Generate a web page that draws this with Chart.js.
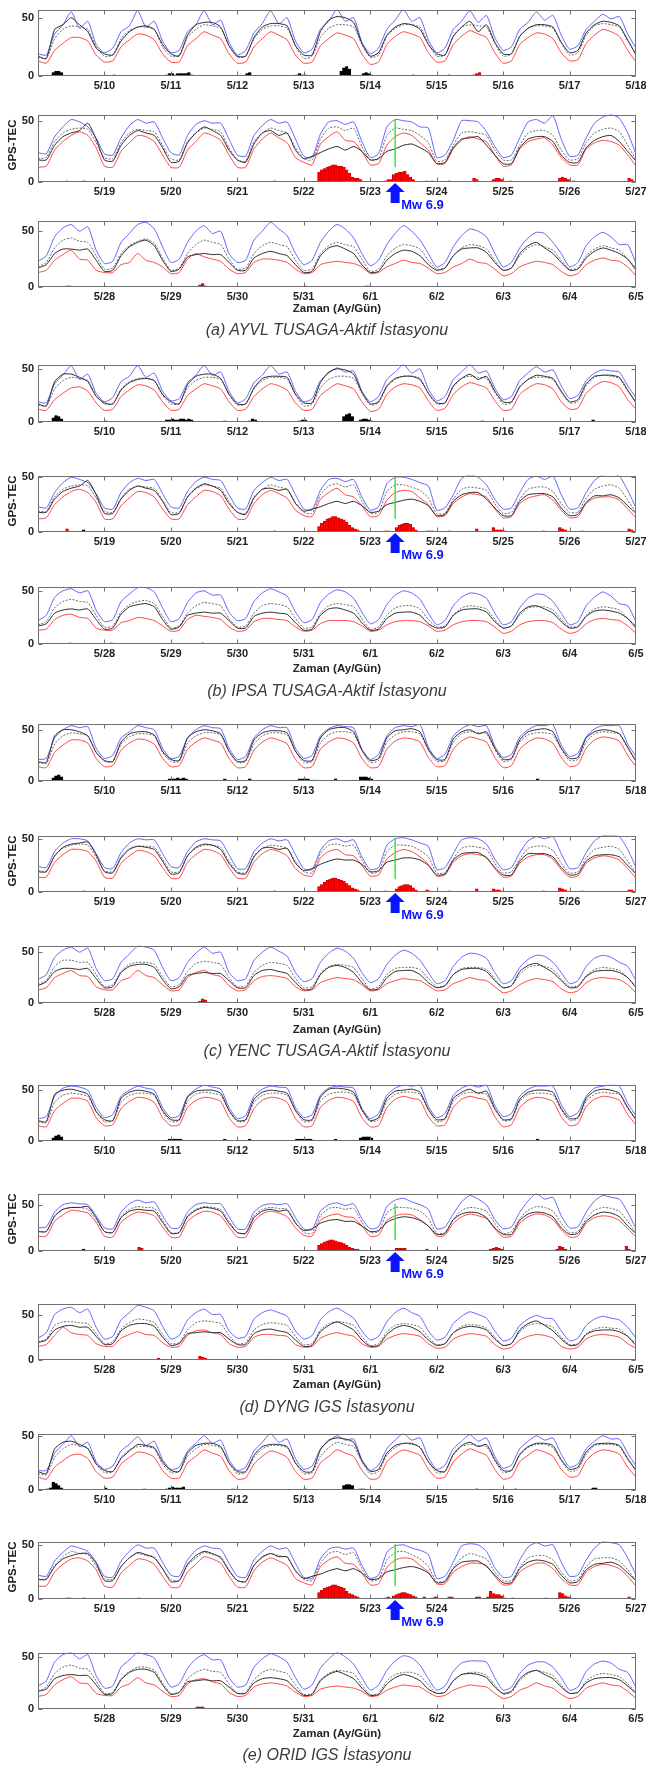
<!DOCTYPE html>
<html>
<head>
<meta charset="utf-8">
<script src="https://cdn.jsdelivr.net/npm/chart.js@4.4.1/dist/chart.umd.min.js"></script>
<style>
  body { margin: 0; background: #fff; }
  #page { position: relative; width: 646px; height: 1774px; overflow: hidden; background: #fff;
          font-family: "Liberation Sans", Arial, sans-serif; }
  #page canvas { position: absolute; left: 0; }
  .caption { position: absolute; left: 0; width: 654px; text-align: center; font-style: italic;
             font-size: 16px; line-height: 20px; color: #3a3a3a; }
  .xtitle { position: absolute; left: 38px; width: 598px; text-align: center; font-weight: bold;
            font-size: 11.5px; line-height: 14px; color: #222; }
  .ytitle { position: absolute; left: 12px; width: 80px; margin-left: -40px; text-align: center;
            font-weight: bold; font-size: 11.5px; line-height: 14px; color: #222; transform: rotate(-90deg); }
</style>
</head>
<body>
<div id="page"></div>
<script>
// GPS-TEC, 3-hourly samples from 5/9 00:00 to 6/5 00:00 (27 days + end point)
// rows = one day (00,03,06,09,12,15,18,21 h)

// ---------- (a) AYVL ----------
const ayvlUpper = [
  19,18,36,44,55,41,47,27, 20,24,38,43,56,42,47,30, 20,22,38,44,56,44,48,29,
  18,22,37,45,56,45,50,30, 20,23,40,47,57,47,50,29, 19,24,40,48,57,47,50,31,
  20,24,40,47,56,46,52,33, 22,25,40,46,55,48,52,35, 23,26,40,47,53,49,51,36,
  24,23,37,45,51,49,45,36, 23,22,36,46,51,48,49,36, 24,22,38,47,50,48,48,35,
  22,21,38,46,51,48,49,35, 21,20,39,49,50,47,49,33, 20,23,45,51,50,49,45,44,
  20,22,34,50,50,49,41,29, 20,22,36,49,51,48,54,35, 21,22,36,48,53,55,52,40,
  23,28,45,53,56,50,54,33, 21,23,40,48,56,58,52,36, 22,25,40,50,55,48,50,30,
  22,24,42,50,58,52,46,30, 20,24,40,50,56,52,44,30, 19,24,38,48,55,50,42,30,
  18,22,36,46,52,50,45,30, 18,22,35,44,49,48,40,30, 18,22,37,45,49,45,38,38,
  21];
const ayvlMedian = [
  16,15,32,40,43,42,40,25, 17,18,32,39,42,42,40,25, 17,18,33,40,44,43,41,26,
  16,17,32,40,43,43,41,26, 15,17,33,41,44,44,42,27, 16,18,34,41,44,44,42,28,
  17,18,34,42,44,43,42,28, 17,19,34,41,43,43,41,28, 18,20,35,43,45,44,42,30,
  19,20,33,40,43,44,43,32, 20,19,32,40,43,42,41,30, 19,18,33,40,44,43,41,28,
  18,17,33,40,44,42,40,28, 19,18,35,44,45,42,44,29, 18,19,38,44,43,42,38,32,
  17,18,30,40,41,40,38,26, 18,18,30,40,42,42,38,26, 18,19,32,40,43,44,41,30,
  18,22,35,42,44,41,40,28, 16,17,30,37,41,43,39,26, 15,17,30,38,42,40,38,25,
  16,17,30,37,40,38,36,24, 15,16,30,37,40,38,36,25, 14,16,28,35,38,37,34,24,
  16,17,28,35,38,37,34,24, 15,17,28,35,38,36,33,24, 16,17,28,34,37,35,33,25,
  17];
const ayvlObs = [
  17,15,40,44,50,44,38,24, 19,18,30,38,42,43,40,27, 19,17,35,44,46,46,42,26,
  17,17,33,42,45,45,43,26, 18,18,38,48,51,50,46,28, 17,20,35,42,45,44,40,27,
  19,18,34,42,47,38,44,29, 19,19,34,41,44,44,42,29, 20,22,37,44,47,46,43,31,
  18,18,30,37,40,42,48,35, 18,17,30,38,42,40,38,28, 16,17,32,40,45,42,38,26,
  18,16,31,40,42,38,40,26, 19,21,24,27,29,26,29,25, 18,19,25,27,30,31,28,24,
  15,16,28,35,36,37,30,22, 15,15,28,35,37,37,33,22, 16,16,28,34,37,38,33,25,
  17,20,30,34,34,33,34,24, 14,15,28,36,40,42,37,24, 14,16,27,29,30,29,29,22,
  15,15,26,30,32,30,28,20, 13,14,28,35,37,34,30,20, 13,14,24,30,33,32,28,20,
  15,17,28,34,35,35,31,22, 15,17,30,37,40,35,30,22, 15,16,26,32,35,33,30,25,
  15];
const ayvlLower = [
  13,11,22,28,33,33,30,18, 12,13,25,31,36,35,31,19, 12,12,26,32,38,35,32,19,
  11,12,25,32,38,35,31,18, 11,12,26,32,37,35,32,19, 10,12,27,34,38,36,33,20,
  12,13,27,34,39,36,33,20, 11,13,27,33,37,36,32,20, 13,14,28,35,40,38,34,22,
  12,13,26,33,38,41,38,28, 13,12,25,32,38,37,33,22, 12,12,26,33,40,38,34,22,
  12,12,27,35,40,36,32,20, 16,14,31,37,41,34,33,25, 14,15,30,37,40,38,32,26,
  15,15,27,34,37,35,33,22, 13,14,27,33,35,36,30,20, 14,14,27,32,34,33,30,22,
  13,15,24,29,33,25,24,15, 13,13,20,22,30,24,22,18, 12,13,25,30,27,25,23,16,
  12,13,22,25,25,24,22,16, 12,13,20,22,23,22,21,18, 12,13,18,21,24,22,21,17,
  12,13,18,21,25,22,21,16, 10,12,18,21,23,22,20,14, 10,12,20,24,26,24,23,18,
  10];
// anomaly bars: [hour from 5/9 00:00, TEC]
const ayvlPosBars = [[5,3],[6,4],[7,4],[8,3],[27,1],[46,1],[47,2],[48,2],[49,1],[50,2],[51,2],[52,2],[53,2],[54,3],[55,1],
  [75,2],[76,3],[93,1],[94,2],[95,1],[96,1],[109,4],[110,7],[111,8],[112,6],[117,2],[118,3],[119,2],[120,1],[135,1],[148,1],[157,1],[232,1]];
const ayvlNegBars = [[158,2],[159,3],[226,1],[301,1],[317,8],[318,10],[319,11],[320,12],[321,13],[322,14],[323,14],[324,13],[325,13],
  [326,12],[327,10],[328,7],[329,4],[330,3],[331,3],[332,2],[341,1],[342,2],[343,2],[344,6],[345,7],[346,8],[347,8],[348,9],[349,6],
  [350,4],[351,2],[356,1],[358,1],[364,1],[373,3],[374,2],[380,2],[381,3],[382,3],[383,2],[386,1],[404,3],[405,4],[406,3],[407,2],
  [409,1],[429,3],[430,2],[442,1],[443,1],[490,2],[491,3],[492,1],[528,1],[550,1],[551,1]];

// ---------- (b) IPSA ----------
const ipsaUpper = [
  19,18,36,44,53,40,45,27, 19,23,38,43,53,42,46,29, 20,22,37,44,53,44,47,29,
  18,22,37,44,53,45,47,29, 19,22,39,46,51,47,48,29, 19,24,40,47,54,46,50,31,
  20,24,40,47,54,46,48,32, 21,24,39,46,52,47,49,34, 22,25,39,46,49,48,47,34,
  23,22,36,45,50,48,45,35, 22,21,36,45,49,47,48,35, 23,22,37,46,50,48,47,34,
  22,21,38,45,50,47,48,34, 21,20,38,48,49,46,48,32, 20,23,44,50,50,48,45,42,
  20,22,34,49,52,50,43,30, 21,22,36,48,51,48,51,34, 21,22,36,47,52,53,51,38,
  22,27,44,50,52,48,50,32, 21,23,40,47,53,53,49,34, 21,24,39,48,50,46,46,30,
  22,24,40,48,52,49,45,30, 20,23,39,47,51,49,43,30, 19,23,37,46,50,48,42,29,
  18,22,36,44,48,47,43,29, 18,21,34,43,47,46,40,29, 18,21,36,44,49,45,38,36,
  21];
const ipsaMedian = [
  16,15,31,39,42,41,39,25, 17,17,31,38,41,41,39,25, 17,17,32,39,42,42,40,26,
  16,17,31,39,42,42,40,26, 15,17,32,40,43,43,41,27, 16,18,33,40,43,43,41,27,
  17,18,33,41,43,42,41,28, 17,18,33,40,42,42,40,28, 18,19,34,42,44,43,41,29,
  19,19,32,39,42,43,42,31, 19,18,31,39,42,41,40,29, 18,18,32,39,43,42,40,28,
  18,17,32,39,43,41,39,27, 18,17,34,42,44,41,43,28, 17,18,37,43,43,41,38,31,
  17,17,30,39,41,40,38,26, 17,18,30,39,41,41,37,26, 18,18,31,39,42,43,40,29,
  18,21,34,40,42,40,39,27, 16,17,30,37,40,41,38,26, 15,17,29,36,39,38,36,24,
  16,17,29,36,38,37,35,24, 15,16,29,36,38,37,35,24, 14,16,27,34,36,36,33,23,
  16,17,27,34,36,35,33,23, 15,17,27,34,35,35,32,23, 16,17,27,33,35,34,32,24,
  17];
const ipsaObs = [
  17,15,38,45,45,42,38,24, 18,17,30,37,40,41,39,26, 19,17,35,43,45,45,41,26,
  17,17,32,41,43,43,42,26, 18,18,37,47,50,49,45,28, 17,19,34,41,43,43,40,27,
  18,18,34,41,45,40,43,29, 19,19,33,40,44,43,41,29, 19,21,36,43,44,44,42,30,
  18,18,30,37,40,42,47,34, 17,17,30,38,42,40,38,28, 16,17,32,40,44,42,38,26,
  18,16,31,39,40,38,39,26, 19,21,23,26,28,26,28,24, 18,19,25,27,29,30,28,24,
  15,16,28,34,36,36,30,22, 15,15,28,34,35,35,32,22, 15,16,27,33,33,34,31,24,
  17,19,29,32,33,32,33,23, 14,15,28,35,37,38,35,23, 14,16,27,29,30,29,29,22,
  15,15,26,29,30,29,28,20, 13,14,27,33,34,32,29,20, 13,14,24,29,30,30,27,19,
  15,16,27,32,33,33,30,21, 15,17,29,35,36,33,29,21, 15,16,26,31,32,31,29,24,
  15];
const ipsaLower = [
  12,11,21,27,32,33,29,18, 11,12,24,30,35,34,30,19, 11,12,25,31,36,34,31,19,
  11,12,24,31,36,34,30,18, 11,12,25,31,36,34,31,19, 10,12,26,33,36,35,32,20,
  11,13,26,33,37,35,32,20, 11,12,26,32,36,35,31,19, 12,13,27,34,38,37,33,21,
  12,13,25,32,37,39,36,27, 12,12,24,31,37,36,32,21, 12,12,25,32,38,37,33,21,
  12,12,26,34,38,35,31,20, 15,14,30,36,40,34,32,24, 14,15,29,36,38,37,31,25,
  14,15,26,32,35,34,32,21, 13,14,26,31,33,34,29,20, 13,14,26,31,32,32,29,21,
  13,14,23,27,28,25,24,15, 13,13,20,22,25,24,22,17, 12,13,23,27,26,25,23,16,
  12,13,21,24,24,23,22,16, 12,13,19,22,22,22,21,17, 12,13,18,21,22,22,21,17,
  12,13,18,21,22,22,21,16, 10,12,18,21,22,22,20,14, 10,12,19,23,24,23,22,17,
  10];
const ipsaPosBars = [[5,4],[6,6],[7,5],[8,3],[24,1],[46,2],[47,2],[48,3],[49,2],[50,2],[51,3],[52,3],[53,2],[54,3],[55,2],[67,1],
  [76,1],[77,3],[78,2],[94,1],[95,2],[96,2],[110,5],[111,7],[112,8],[113,5],[116,2],[117,3],[118,3],[119,2],[120,1],[160,1],[200,2],[232,2]];
const ipsaNegBars = [[226,3],[301,1],[317,5],[318,8],[319,10],[320,12],[321,13],[322,14],[323,14],[324,13],[325,12],[326,11],[327,9],
  [328,6],[329,4],[330,3],[331,2],[341,1],[342,1],[345,4],[346,6],[347,7],[348,8],[349,8],[350,7],[351,4],[352,2],[356,1],[357,1],
  [358,1],[364,1],[374,3],[380,4],[381,2],[382,2],[383,2],[384,1],[398,1],[404,4],[405,3],[406,2],[412,1],[429,3],[430,2],[443,1],
  [458,1],[491,1],[530,1]];

// ---------- (c) YENC ----------
const yencUpper = [
  21,22,42,50,54,52,53,32, 22,25,42,48,54,52,50,32, 22,24,42,50,54,52,51,32,
  21,24,42,50,54,52,52,32, 22,25,44,51,54,53,52,31, 21,26,44,52,54,53,55,33,
  22,26,44,51,55,53,54,34, 23,26,43,50,54,54,55,35, 24,27,43,51,54,54,54,36,
  24,23,38,46,50,50,48,36, 23,22,37,46,50,49,49,36, 24,23,38,47,50,49,48,35,
  22,22,38,46,50,48,49,35, 22,21,39,48,50,47,49,33, 21,23,44,50,51,49,46,43,
  21,23,36,49,51,50,45,31, 21,23,37,48,52,50,52,36, 22,23,37,48,53,53,52,40,
  23,28,45,52,55,50,54,34, 22,24,40,48,56,55,52,35, 22,25,40,49,55,49,50,30,
  22,24,42,50,55,51,46,30, 21,24,40,49,54,51,44,30, 20,24,38,47,52,49,42,30,
  19,22,36,45,49,48,44,30, 19,22,35,43,47,46,40,30, 19,22,36,44,47,45,40,36,
  22];
const yencMedian = [
  18,17,36,44,47,46,44,28, 19,19,36,43,46,46,44,28, 19,19,37,44,47,47,45,29,
  18,19,36,44,47,47,45,29, 18,19,37,45,48,48,46,30, 18,20,38,45,48,48,46,30,
  19,20,38,46,48,47,46,31, 19,21,38,45,47,47,45,31, 20,21,38,46,48,47,46,32,
  20,20,34,41,44,45,44,33, 20,19,33,41,43,43,42,31, 19,19,34,41,44,44,42,29,
  19,18,34,41,44,43,41,29, 19,18,36,44,45,43,44,30, 18,19,38,44,44,43,39,33,
  18,18,31,41,43,42,40,27, 18,19,31,41,43,43,39,27, 18,19,32,40,42,43,40,29,
  18,22,36,42,42,40,40,28, 16,18,31,38,40,40,38,26, 16,18,31,39,41,40,38,25,
  16,17,30,37,40,39,37,24, 15,16,29,36,38,37,35,24, 14,16,28,34,35,35,33,24,
  16,17,28,34,35,35,33,24, 15,17,28,35,37,36,33,24, 16,17,27,33,35,34,32,25,
  17];
const yencObs = [
  19,18,44,50,50,48,44,28, 20,19,38,46,48,48,45,29, 21,20,42,48,50,49,46,29,
  19,20,40,47,49,49,47,29, 20,20,42,50,52,52,48,30, 20,22,42,49,50,51,48,31,
  21,21,41,48,50,46,48,32, 21,22,40,48,50,51,48,32, 22,23,42,48,50,49,46,33,
  19,19,34,42,45,46,47,35, 19,18,32,40,43,42,40,29, 17,18,34,42,45,44,40,27,
  18,17,33,41,42,40,41,27, 20,22,26,29,31,30,30,26, 19,20,28,30,32,32,30,25,
  16,17,30,36,37,37,32,23, 16,16,29,36,36,36,33,23, 16,17,29,34,35,35,33,25,
  17,21,31,34,34,33,34,24, 15,16,30,36,38,38,35,23, 14,16,27,29,30,29,29,22,
  15,15,27,32,33,31,29,20, 13,14,28,35,37,35,30,20, 13,14,25,31,32,32,28,20,
  15,17,28,33,34,34,31,22, 15,17,31,37,39,35,30,22, 15,16,26,31,32,32,30,25,
  15];
const yencLower = [
  14,13,28,35,40,40,37,22, 14,15,30,37,41,40,36,22, 14,15,31,38,42,40,37,22,
  13,14,30,38,42,40,36,21, 13,14,31,38,42,41,37,22, 13,14,31,39,42,41,38,23,
  14,15,31,39,43,41,38,23, 13,15,31,38,42,41,37,23, 14,16,32,40,43,42,39,25,
  14,14,28,35,40,40,38,29, 14,13,27,34,39,38,34,23, 13,13,28,35,40,39,35,23,
  13,13,28,36,40,38,34,22, 16,15,32,38,40,35,34,25, 15,16,31,37,40,38,33,26,
  15,16,28,34,36,35,33,22, 14,15,27,33,35,35,31,21, 14,15,27,32,34,33,30,22,
  13,15,25,29,32,27,26,16, 13,13,22,25,32,27,25,18, 12,13,25,30,32,28,26,17,
  12,13,22,26,27,26,24,16, 12,13,20,23,25,24,23,18, 12,13,19,22,24,23,22,17,
  12,13,19,22,25,23,22,16, 10,12,18,22,24,23,21,14, 10,12,20,24,25,24,23,18,
  10];
const yencPosBars = [[5,3],[6,5],[7,6],[8,4],[24,1],[46,1],[47,2],[48,2],[49,2],[50,3],[51,2],[52,3],[53,2],[54,1],[67,2],[76,2],
  [93,1],[94,2],[95,2],[96,2],[97,2],[98,1],[99,1],[100,1],[107,2],[113,1],[116,4],[117,4],[118,4],[119,3],[120,2],[132,1],[171,1],
  [180,2],[232,1]];
const yencNegBars = [[301,1],[317,5],[318,7],[319,9],[320,11],[321,12],[322,13],[323,13],[324,12],[325,11],[326,10],[327,8],[328,6],
  [329,4],[330,3],[331,2],[341,1],[345,3],[346,5],[347,6],[348,7],[349,7],[350,6],[351,4],[352,2],[356,2],[357,1],[364,1],[374,3],
  [380,3],[381,2],[382,2],[383,1],[398,1],[404,4],[405,3],[406,2],[412,1],[429,2],[430,2],[458,1],[490,2],[491,4],[492,3],[532,1],
  [534,1],[632,1]];

// ---------- (d) DYNG ----------
const dyngUpper = [
  22,24,44,52,54,53,50,33, 23,26,44,50,54,52,50,33, 23,25,44,51,55,53,51,33,
  22,25,44,51,54,53,52,33, 23,26,45,52,54,53,52,32, 22,27,45,52,55,54,55,34,
  23,27,45,52,55,53,55,35, 24,27,44,51,54,54,54,36, 24,28,44,52,54,55,54,37,
  25,26,42,50,52,51,50,38, 25,24,42,51,55,52,53,38, 25,25,42,50,52,51,51,37,
  24,24,42,49,51,50,51,36, 24,23,43,50,52,49,51,35, 24,26,48,55,57,53,50,45,
  24,26,40,53,60,56,50,34, 24,26,42,54,62,56,58,38, 25,26,42,54,60,58,56,42,
  24,30,50,56,58,52,56,36, 23,26,44,52,60,58,54,37, 23,27,44,52,56,50,50,32,
  24,26,45,52,55,52,48,32, 23,27,44,53,57,52,46,32, 22,26,42,52,57,52,48,32,
  22,25,40,48,53,50,46,32, 21,24,38,45,49,46,45,32, 21,24,38,45,48,46,44,36,
  24];
const dyngMedian = [
  19,18,38,45,47,46,44,29, 19,20,38,45,47,47,45,29, 19,20,39,46,48,47,45,30,
  19,20,38,45,47,47,45,30, 19,20,39,46,48,48,46,30, 19,21,39,46,48,48,46,31,
  19,21,39,46,48,47,46,31, 20,21,39,46,47,47,45,31, 20,22,39,46,48,47,46,32,
  21,21,37,45,47,47,45,34, 21,20,37,45,48,47,46,33, 20,20,38,45,48,47,45,32,
  20,19,38,45,47,46,45,31, 20,19,38,46,47,45,46,31, 20,21,41,47,47,46,43,35,
  19,20,34,44,47,46,43,30, 19,21,35,44,48,47,43,30, 20,21,35,44,47,46,43,32,
  20,23,38,42,42,41,40,29, 18,20,34,41,45,44,41,28, 18,19,33,41,43,42,40,27,
  18,19,33,39,41,40,38,26, 17,18,33,40,42,41,38,26, 16,18,31,38,40,39,36,25,
  17,18,30,37,39,38,35,25, 16,18,31,38,40,39,36,25, 17,18,29,34,36,35,34,26,
  18];
const dyngObs = [
  20,19,46,50,51,49,46,29, 21,20,42,48,50,49,46,30, 21,21,43,49,50,50,47,30,
  20,21,41,48,50,49,47,30, 21,21,43,51,52,51,48,31, 20,23,42,49,50,51,48,31,
  21,22,42,48,51,47,49,32, 21,22,41,48,50,50,48,32, 22,23,42,49,51,50,47,33,
  21,21,38,45,47,47,48,36, 21,20,36,43,45,44,43,31, 19,20,37,44,47,46,43,30,
  20,19,36,43,45,43,44,30, 22,24,30,33,34,32,32,27, 21,22,31,35,37,36,33,27,
  18,19,34,40,42,41,36,25, 18,18,33,40,42,41,37,25, 18,19,32,39,42,41,37,27,
  19,22,33,37,38,36,36,26, 17,18,32,38,40,40,37,25, 16,18,29,30,31,30,30,23,
  17,17,29,33,34,32,30,22, 15,16,31,38,42,38,33,22, 15,16,28,35,38,36,31,22,
  16,18,30,35,37,36,33,23, 16,18,33,40,43,38,32,23, 16,17,28,32,33,33,31,26,
  16];
const dyngLower = [
  15,14,30,37,42,42,39,23, 15,16,32,39,43,42,38,23, 15,16,33,40,43,42,39,23,
  14,15,32,40,43,42,38,22, 14,15,33,40,43,42,39,23, 14,15,33,41,44,42,40,24,
  15,16,33,41,44,42,40,24, 14,16,33,40,43,42,39,24, 15,17,34,41,44,43,40,26,
  16,16,32,39,44,43,41,31, 16,15,31,38,42,41,38,26, 15,15,32,39,43,42,38,26,
  15,15,32,40,43,41,37,25, 17,16,33,38,40,37,36,27, 16,17,33,38,40,39,34,27,
  16,17,30,37,40,38,35,24, 15,16,30,37,40,39,34,23, 15,16,30,36,38,37,33,24,
  15,17,27,36,30,28,27,18, 15,15,24,28,31,28,27,19, 14,15,27,32,33,30,28,18,
  14,15,25,28,28,27,26,17, 14,15,24,28,30,28,26,18, 14,15,23,27,29,28,26,18,
  13,14,23,27,29,28,26,17, 12,14,22,26,28,27,24,15, 12,14,23,27,28,27,25,18,
  13];
const dyngPosBars = [[5,3],[6,5],[7,6],[8,4],[24,1],[46,1],[47,2],[48,2],[49,2],[50,2],[51,2],[52,1],[67,2],[76,2],[93,2],[94,2],
  [95,2],[96,2],[97,2],[98,2],[99,1],[107,2],[113,1],[116,3],[117,4],[118,4],[119,4],[120,3],[132,1],[148,1],[171,1],[180,2],[232,2]];
const dyngNegBars = [[12,1],[252,4],[253,3],[301,1],[317,6],[318,8],[319,10],[320,11],[321,12],[322,12],[323,11],[324,10],[325,9],
  [326,8],[327,6],[328,4],[329,3],[330,2],[331,2],[341,1],[342,1],[345,3],[346,3],[347,3],[348,3],[356,2],[364,1],[365,1],[370,1],
  [378,1],[379,2],[380,3],[381,4],[382,3],[383,2],[384,1],[387,1],[402,1],[403,2],[404,5],[405,4],[406,2],[407,1],[428,5],[429,2],
  [459,1],[475,2],[490,4],[491,3],[492,2],[514,1],[550,1]];

// ---------- (e) ORID ----------
const oridUpper = [
  18,18,34,42,50,40,44,26, 19,22,36,42,49,41,45,28, 19,21,36,43,50,43,46,28,
  18,21,36,44,52,44,47,29, 19,22,38,45,50,46,47,28, 18,23,38,46,52,46,48,30,
  19,23,38,45,51,45,48,31, 20,23,38,45,50,46,48,33, 21,24,38,45,50,47,47,34,
  22,21,35,43,49,47,44,34, 21,20,35,44,50,47,47,34, 22,21,36,45,49,47,46,33,
  21,20,36,44,49,46,47,33, 20,19,37,46,48,46,47,31, 19,22,43,49,50,47,45,41,
  19,21,34,49,51,50,44,29, 20,21,36,48,52,49,50,34, 21,22,36,47,53,52,50,38,
  22,27,45,52,54,48,52,32, 20,22,40,47,54,52,49,34, 21,24,39,48,52,47,47,30,
  21,23,40,48,53,50,45,30, 19,23,39,48,54,50,43,30, 18,23,37,46,51,49,42,29,
  18,22,36,44,46,46,45,30, 18,21,34,42,45,45,40,30, 18,21,36,43,46,44,38,35,
  21];
const oridMedian = [
  15,14,30,38,42,41,39,24, 16,17,30,37,40,40,38,24, 16,17,31,38,42,41,39,25,
  15,16,30,38,41,41,39,25, 15,16,31,39,44,42,40,26, 15,17,32,39,43,42,40,26,
  16,17,32,40,42,41,40,27, 16,18,32,39,42,42,39,27, 17,19,33,41,42,42,40,28,
  18,19,31,39,44,42,41,30, 19,18,30,38,42,40,39,28, 18,17,31,38,43,41,39,27,
  17,16,31,38,42,40,38,26, 18,17,33,42,44,41,43,28, 17,18,36,43,44,41,37,30,
  16,17,29,38,42,40,37,25, 17,17,29,38,40,40,36,25, 17,18,30,37,38,38,35,27,
  17,21,34,40,42,39,38,27, 15,16,29,36,40,40,37,25, 15,16,29,35,38,36,35,24,
  15,16,28,35,38,36,34,23, 14,15,28,34,37,36,34,23, 14,15,27,33,35,35,32,23,
  15,16,27,33,35,35,32,23, 14,16,27,34,37,35,32,23, 15,16,27,32,34,33,31,24,
  16];
const oridObs = [
  17,15,38,44,45,42,38,24, 18,17,29,36,42,41,39,26, 18,17,34,41,43,43,40,25,
  17,17,32,40,42,42,40,25, 17,17,37,46,48,47,44,27, 17,19,34,41,43,43,39,26,
  18,17,33,41,44,40,42,28, 18,18,33,40,43,43,41,28, 19,21,35,42,43,43,41,29,
  18,18,30,37,40,42,42,33, 17,17,30,38,43,41,38,28, 16,17,32,40,44,42,38,26,
  17,16,31,39,42,39,39,26, 19,21,23,26,28,26,28,24, 18,19,25,27,29,30,28,24,
  15,16,28,34,35,35,30,22, 15,15,28,34,36,35,32,22, 15,16,27,32,33,34,31,24,
  17,19,29,32,33,32,32,23, 14,15,28,35,38,38,35,23, 14,16,26,27,28,27,27,21,
  15,15,25,29,30,29,27,19, 13,14,27,33,36,33,29,20, 13,14,24,30,33,31,27,19,
  15,16,27,33,34,33,30,21, 15,17,29,35,37,33,29,21, 15,16,25,29,30,30,28,22,
  15];
const oridLower = [
  12,10,21,27,32,33,29,17, 11,12,24,30,35,34,30,18, 11,11,25,31,37,34,31,18,
  10,11,24,31,36,34,30,17, 10,11,25,31,37,34,31,18, 10,11,26,33,37,35,32,19,
  11,12,26,33,38,35,32,19, 10,12,26,32,37,35,31,19, 12,13,27,34,37,36,33,21,
  12,12,25,32,37,38,35,27, 12,11,24,31,37,36,32,21, 11,11,25,32,39,37,33,21,
  11,11,26,34,38,35,31,19, 15,13,30,36,39,33,32,24, 13,14,29,36,38,37,31,25,
  14,14,25,30,33,33,31,21, 13,14,25,30,33,33,28,19, 13,13,25,30,32,31,28,21,
  12,14,23,28,31,25,24,15, 13,13,21,24,30,25,23,17, 12,13,24,28,29,26,24,16,
  12,13,21,24,25,24,22,16, 12,13,19,21,22,21,20,17, 12,13,18,21,23,22,21,16,
  12,13,18,21,23,22,21,15, 10,12,18,21,25,22,20,14, 10,12,20,23,25,23,22,17,
  10];
const oridPosBars = [[3,1],[4,2],[5,7],[6,6],[7,4],[8,2],[24,2],[46,1],[47,2],[48,3],[49,2],[50,2],[51,2],[52,3],[96,1],[110,4],
  [111,5],[112,5],[113,4],[116,1],[117,1],[158,1],[172,1],[200,2],[201,2],[232,1]];
const oridNegBars = [[38,1],[70,1],[226,1],[227,1],[252,1],[317,6],[318,8],[319,10],[320,11],[321,12],[322,13],[323,13],[324,12],
  [325,11],[326,10],[327,7],[328,5],[329,4],[330,3],[331,2],[341,1],[342,2],[344,3],[345,4],[346,5],[347,6],[348,6],[349,5],[350,4],
  [351,3],[352,2],[355,2],[358,1],[359,2],[364,2],[365,2],[374,2],[375,2],[378,2],[379,7],[380,5],[381,4],[382,4],[383,3],[384,1],
  [387,1],[399,1],[404,6],[405,5],[406,3],[407,2],[408,1],[429,2],[482,1],[488,1],[489,2],[490,2],[491,2],[492,1],[520,1],[551,1]];

// axis labels
const panelTickLabels = [
  ['5/10','5/11','5/12','5/13','5/14','5/15','5/16','5/17','5/18'],
  ['5/19','5/20','5/21','5/22','5/23','5/24','5/25','5/26','5/27'],
  ['5/28','5/29','5/30','5/31','6/1','6/2','6/3','6/4','6/5']
];
const yTickValues = [0, 50];
const stationNames = ['(a) AYVL TUSAGA-Aktif İstasyonu', '(b) IPSA TUSAGA-Aktif İstasyonu',
  '(c) YENC TUSAGA-Aktif İstasyonu', '(d) DYNG IGS İstasyonu', '(e) ORID IGS İstasyonu'];
const stationYMax = [[57, 55, 59.5], [54, 51.5, 54], [56, 53, 56.5], [55.5, 62, 62], [52, 53, 54]];
const quakeHour = 129;        // hour in the middle panel (Mw 6.9)
const quakeLine = [12, 51];

const stations = [
  { upper: ayvlUpper, median: ayvlMedian, obs: ayvlObs, lower: ayvlLower, pos: ayvlPosBars, neg: ayvlNegBars },
  { upper: ipsaUpper, median: ipsaMedian, obs: ipsaObs, lower: ipsaLower, pos: ipsaPosBars, neg: ipsaNegBars },
  { upper: yencUpper, median: yencMedian, obs: yencObs, lower: yencLower, pos: yencPosBars, neg: yencNegBars },
  { upper: dyngUpper, median: dyngMedian, obs: dyngObs, lower: dyngLower, pos: dyngPosBars, neg: dyngNegBars },
  { upper: oridUpper, median: oridMedian, obs: oridObs, lower: oridLower, pos: oridPosBars, neg: oridNegBars }
];

// page layout (px): plot top / zero line of each panel, centres of x title and caption
const layouts = [
  { tops: [2.7, 108, 214],        zeros: [76, 182, 287.3],        xtitle: 308, caption: 330 },
  { tops: [357.7, 469.3, 580],    zeros: [422, 532.7, 644.3],     xtitle: 668, caption: 691 },
  { tops: [717.3, 829, 939.3],    zeros: [781.3, 892.3, 1003.3],  xtitle: 1029, caption: 1051 },
  { tops: [1077.7, 1187.3, 1297.3], zeros: [1141, 1251, 1360],    xtitle: 1384, caption: 1407 },
  { tops: [1426.7, 1535.3, 1645.7], zeros: [1489.3, 1599, 1708.3], xtitle: 1733, caption: 1755 }
];

Chart.defaults.font.family = '"Liberation Sans", Arial, sans-serif';
Chart.defaults.font.size = 11;
Chart.defaults.font.weight = 'bold';
Chart.defaults.color = '#222';

const W = 656, PLOT_LEFT = 38, PLOT_RIGHT = 636, PAD_TOP = 4, XAXIS_H = 16;
const page = document.getElementById('page');

// box + inward ticks, matlab style
const framePlugin = {
  id: 'frame',
  afterDatasetsDraw(chart) {
    const { ctx, chartArea: a, scales: { x, y } } = chart;
    const l = Math.round(a.left) + 0.5, r = Math.round(a.right) - 0.5;
    const t = Math.round(a.top) + 0.5, b = Math.round(a.bottom) - 0.5;
    ctx.save();
    ctx.strokeStyle = '#707070';
    ctx.lineWidth = 1;
    ctx.strokeRect(l, t, r - l, b - t);
    ctx.beginPath();
    for (let h = 24; h < 216; h += 24) {
      const px = Math.round(x.getPixelForValue(h)) + 0.5;
      ctx.moveTo(px, t); ctx.lineTo(px, t + 4);
      ctx.moveTo(px, b); ctx.lineTo(px, b - 4);
    }
    yTickValues.forEach(v => {
      const py = Math.round(y.getPixelForValue(v)) + 0.5;
      ctx.moveTo(l, py); ctx.lineTo(l + 4, py);
      ctx.moveTo(r, py); ctx.lineTo(r - 4, py);
    });
    ctx.stroke();
    ctx.restore();
  }
};

// blue arrow + label under the earthquake line
const quakePlugin = {
  id: 'quake',
  afterDraw(chart) {
    const { ctx, chartArea: a, scales: { x } } = chart;
    const cx = x.getPixelForValue(quakeHour);
    const y0 = a.bottom + 1;
    ctx.save();
    ctx.fillStyle = '#0a14ff';
    ctx.beginPath();
    ctx.moveTo(cx, y0);
    ctx.lineTo(cx + 9.5, y0 + 9);
    ctx.lineTo(cx + 4.5, y0 + 9);
    ctx.lineTo(cx + 4.5, y0 + 20);
    ctx.lineTo(cx - 4.5, y0 + 20);
    ctx.lineTo(cx - 4.5, y0 + 9);
    ctx.lineTo(cx - 9.5, y0 + 9);
    ctx.closePath();
    ctx.fill();
    ctx.font = 'bold 13px "Liberation Sans", Arial, sans-serif';
    ctx.fillText('Mw 6.9', cx + 6, y0 + 26);
    ctx.restore();
  }
};

function lineSet(data, color, width, dash) {
  return {
    type: 'line', data, borderColor: color, borderWidth: width, borderDash: dash || [],
    pointRadius: 0, fill: false, tension: 0.2
  };
}

function barSet(data, color, edge) {
  return {
    type: 'bar', data, backgroundColor: color, borderColor: edge, borderWidth: 0.5,
    barThickness: 2.8, grouped: false
  };
}

function makePanel(st, si, p) {
  const lay = layouts[si];
  const top = lay.tops[p], zero = lay.zeros[p];
  const extra = p === 1 ? 30 : 0;
  const plotH = Math.round(zero - top);
  const h = plotH + PAD_TOP + XAXIS_H + extra;

  const canvas = document.createElement('canvas');
  canvas.width = W;
  canvas.height = h;
  canvas.style.top = (top - PAD_TOP) + 'px';
  canvas.style.width = W + 'px';
  canvas.style.height = h + 'px';
  page.appendChild(canvas);

  const i0 = p * 72;
  const pts = arr => arr.slice(i0, i0 + 73).map((v, i) => ({ x: i * 3, y: v }));
  const bars = list => list
    .filter(b => b[0] >= p * 216 && b[0] < p * 216 + 216)
    .map(b => ({ x: b[0] - p * 216 + 0.5, y: b[1] }));

  const datasets = [];
  if (p === 1) {
    datasets.push(lineSet([{ x: quakeHour, y: quakeLine[0] }, { x: quakeHour, y: quakeLine[1] }], '#3fe23f', 1.5));
  }
  datasets.push(
    lineSet(pts(st.obs), '#2b2b2b', 1),
    lineSet(pts(st.median), '#6a6a6a', 1, [2, 1.5]),
    lineSet(pts(st.upper), '#6464ff', 1),
    lineSet(pts(st.lower), '#ff4646', 1),
    barSet(bars(st.pos), '#000000', '#000000'),
    barSet(bars(st.neg), '#ff0000', '#b00000')
  );

  new Chart(canvas, {
    type: 'line',
    data: { datasets },
    options: {
      responsive: false,
      animation: false,
      events: [],
      layout: { padding: { left: 0, right: W - PLOT_RIGHT, top: PAD_TOP, bottom: extra } },
      plugins: { legend: { display: false }, tooltip: { enabled: false } },
      scales: {
        x: {
          type: 'linear', min: 0, max: 216, offset: false,
          grid: { display: false, drawTicks: false, offset: false },
          border: { display: false },
          afterBuildTicks: s => { s.ticks = panelTickLabels[p].map((_, k) => ({ value: (k + 1) * 24 })); },
          ticks: {
            autoSkip: false, maxRotation: 0, padding: 3,
            callback: v => panelTickLabels[p][v / 24 - 1]
          },
          afterFit: s => { s.height = XAXIS_H; }
        },
        y: {
          min: 0, max: stationYMax[si][p],
          grid: { display: false, drawTicks: false },
          border: { display: false },
          afterBuildTicks: s => { s.ticks = yTickValues.map(v => ({ value: v })); },
          ticks: { padding: 4 },
          afterFit: s => { s.width = PLOT_LEFT; }
        }
      }
    },
    plugins: p === 1 ? [framePlugin, quakePlugin] : [framePlugin]
  });
}

function addText(cls, text, centerY, lineH) {
  const d = document.createElement('div');
  d.className = cls;
  d.textContent = text;
  d.style.top = (centerY - lineH / 2) + 'px';
  page.appendChild(d);
}

stations.forEach((st, si) => {
  for (let p = 0; p < 3; p++) makePanel(st, si, p);
  const lay = layouts[si];
  addText('xtitle', 'Zaman (Ay/Gün)', lay.xtitle, 14);
  addText('caption', stationNames[si], lay.caption, 20);
  addText('ytitle', 'GPS-TEC', (lay.tops[1] + lay.zeros[1]) / 2, 14);
});
</script>
</body>
</html>
